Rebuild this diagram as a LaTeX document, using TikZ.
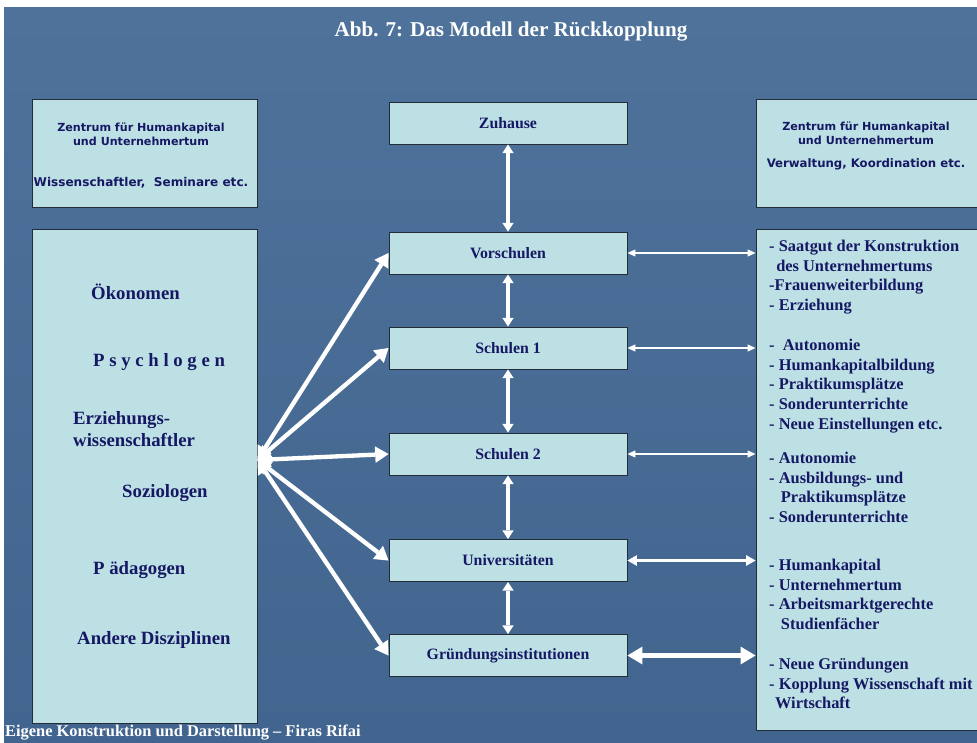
\documentclass[tikz,border=0pt]{standalone}
\usepackage{fontspec}
\setmainfont{Liberation Serif}
\setsansfont{DejaVu Sans}
\usetikzlibrary{arrows.meta,positioning}

\definecolor{bgtop}{RGB}{78,114,154}
\definecolor{bgbottom}{RGB}{66,101,143}
\definecolor{boxfill}{RGB}{189,224,228}
\definecolor{boxline}{RGB}{35,45,55}
\definecolor{inknavy}{RGB}{22,24,100}

\begin{document}
\begin{tikzpicture}[x=0.03cm, y=-0.03cm, text=inknavy]

        % Setup the styles for boxes, texts and arrows
        \tikzset{box style/.style={draw=boxline, line width=0.8pt,
                                   fill=boxfill, inner sep=0pt},
                 stage style/.style={box style,
                                     minimum width=7.14cm,
                                     minimum height=1.26cm,
                                     font=\fontsize{13.5}{16}\selectfont\bfseries},
                 head style/.style={align=center, inner sep=0pt,
                                    font=\sffamily\bfseries\fontsize{9.5}{12}\selectfont},
                 field style/.style={anchor=west, inner sep=0pt, align=left,
                                     font=\fontsize{16}{19.5}\selectfont\bfseries},
                 effect style/.style={anchor=north west, inner sep=0pt, align=left,
                                      font=\fontsize{14}{16.8}\selectfont\bfseries},
                 link/.style={white, <->}}

        % Page and background
        \useasboundingbox (0,0) rectangle (977,742);
        \clip (0,0) rectangle (977,742);
        \fill[white] (0,0) rectangle (977,742);
        \shade[top color=bgtop, bottom color=bgbottom] (4,7) rectangle (977,742);

        % Title and credit line
        \node[text=white, font=\fontsize{18}{20}\selectfont\bfseries] (title) at (511,32)
            {Abb. 7: Das Modell der Rückkopplung};
        \node[text=white, anchor=west, inner sep=0pt,
              font=\fontsize{14}{16}\selectfont\bfseries] (credit) at (5,733)
            {Eigene Konstruktion und Darstellung – Firas Rifai};

        % Draw the side boxes
        \node[box style, minimum width=6.75cm, minimum height=3.24cm] (ltop) at (144.5,153) {};
        \node[head style] (ltoptext) at (141,156)
            {Zentrum für Humankapital\\und Unternehmertum\\[23pt]
             {\fontsize{10.3}{12}\selectfont Wissenschaftler,\ \ Seminare etc.}};
        \node[box style, minimum width=6.72cm, minimum height=3.24cm] (rtop) at (868,153) {};
        \node[head style] (rtoptext) at (866,146)
            {Zentrum für Humankapital\\und Unternehmertum\\[7pt]
             {\fontsize{10}{12}\selectfont Verwaltung, Koordination etc.}};
        \node[box style, minimum width=6.75cm, minimum height=14.82cm] (lbig) at (144.5,476) {};
        \node[box style, minimum width=6.72cm, minimum height=15.03cm] (rbig) at (868,479.5) {};

        % Draw the stages
        \node[stage style] at (508,123)   (zu)   {Zuhause};
        \node[stage style] at (508,253)   (vor)  {Vorschulen};
        \node[stage style] at (508,348)   (s1)   {Schulen 1};
        \node[stage style] at (508,454)   (s2)   {Schulen 2};
        \node[stage style] at (508,560.5) (uni)  {Universitäten};
        \node[stage style] at (508,655.5) (gru)  {Gründungsinstitutionen};

        % Disciplines
        \node[field style] at (91,292)  (oek)  {Ökonomen};
        \node[field style] at (93,362)  (psy)  {P s y c h l o g e n};
        \node[field style] at (73,429)  (erz)  {Erziehungs-\\wissenschaftler};
        \node[field style] at (122,493) (soz)  {Soziologen};
        \node[field style] at (93,570)  (paed) {P ädagogen};
        \node[field style] at (77,640)  (and)  {Andere Disziplinen};

        % Effects of each stage
        \node[effect style] at (769,240) (eff1)
            {- Saatgut der Konstruktion\\\hspace*{6pt}des Unternehmertums\\-Frauenweiterbildung\\- Erziehung};
        \node[effect style] at (769,339) (eff2)
            {-\ \ Autonomie\\- Humankapitalbildung\\- Praktikumsplätze\\- Sonderunterrichte\\- Neue Einstellungen etc.};
        \node[effect style] at (769,452) (eff3)
            {- Autonomie\\- Ausbildungs- und\\\hspace*{10pt}Praktikumsplätze\\- Sonderunterrichte};
        \node[effect style] at (769,559) (eff4)
            {- Humankapital\\- Unternehmertum\\- Arbeitsmarktgerechte\\\hspace*{10pt}Studienfächer};
        \node[effect style] at (769,658) (eff5)
            {- Neue Gründungen\\- Kopplung Wissenschaft mit\\\hspace*{5pt}Wirtschaft};

        \coordinate (hub) at (lbig.east |- 0,460);

        % Connect the stages with each other
        \path[link, line width=1.2mm, >={Triangle[length=2.6mm,width=3.4mm,line width=0pt]}]
            (zu)  edge (vor)
            (vor) edge (s1)
            (s1)  edge (s2)
            (s2)  edge (uni)
            (uni) edge (gru)
            ;

        % Connect the stages with their effects
        \path[link, line width=0.45mm, >={Triangle[length=2.4mm,width=2.2mm,line width=0pt]}]
            (vor.east) edge (vor.east -| rbig.west)
            (s1.east)  edge (s1.east -| rbig.west)
            (s2.east)  edge (s2.east -| rbig.west)
            ;
        \path[link, line width=0.8mm, >={Triangle[length=2.8mm,width=3.2mm,line width=0pt]}]
            (uni.east) edge (uni.east -| rbig.west);
        \path[link, line width=1.4mm, >={Triangle[length=4.5mm,width=5.4mm,line width=0pt]}]
            (gru.east) edge (gru.east -| rbig.west);

        % Connect the disciplines with the stages
        \path[link, line width=1.3mm, >={Triangle[length=4mm,width=5mm,line width=0pt]}]
            (hub) edge (vor.west)
            (hub) edge (s1.west)
            (hub) edge (s2.west)
            (hub) edge (uni.west)
            (hub) edge (gru.west)
            ;
\end{tikzpicture}
\end{document}
